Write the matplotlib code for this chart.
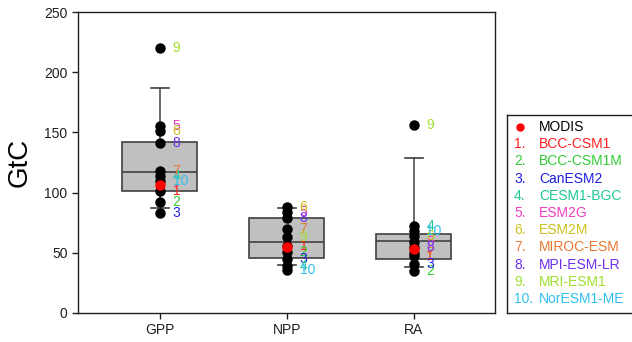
import matplotlib
matplotlib.use('Agg')
import matplotlib.pyplot as plt

plt.rcParams['font.family'] = ['Liberation Sans', 'DejaVu Sans']

# Categories and model names
categories = ['GPP', 'NPP', 'RA']
models = ['BCC-CSM1', 'BCC-CSM1M', 'CanESM2', 'CESM1-BGC', 'ESM2G',
          'ESM2M', 'MIROC-ESM', 'MPI-ESM-LR', 'MRI-ESM1', 'NorESM1-ME']
model_colors = ['#FF2020', '#33CC33', '#2020E0', '#20C896', '#F040C0',
                '#CCC020', '#E87830', '#7030F0', '#A0E030', '#30C0F0']

# Model values (GtC) per category, in model order 1..10
gpp = [101, 92, 83, 114, 155, 151, 118, 141, 220, 110]
npp = [56, 51, 45, 39, 84, 88, 70, 79, 63, 36]
ra = [47, 35, 41, 72, 59, 64, 50, 55, 156, 68]
modis = [106, 55, 53]

# Box statistics
box_whislo = [87, 40, 38]
box_q1 = [101, 46, 45]
box_med = [117, 59, 60]
box_q3 = [142, 79, 66]
box_whishi = [187, 87, 129]

fig = plt.figure(figsize=(6.32, 3.42), dpi=100)
ax = fig.add_axes([78/632, 1-313/342, (495-78)/632, (313-12)/342])

stats = []
for i in range(3):
    stats.append({'whislo': box_whislo[i], 'q1': box_q1[i], 'med': box_med[i],
                  'q3': box_q3[i], 'whishi': box_whishi[i], 'fliers': []})

positions = [1, 2, 3]
ax.bxp(stats, positions=positions, widths=0.59, patch_artist=True,
       showfliers=False, capwidths=0.14,
       boxprops=dict(facecolor='#C0C0C0', edgecolor='#404040', linewidth=1.2),
       medianprops=dict(color='#404040', linewidth=1.2),
       whiskerprops=dict(color='#505050', linewidth=1.2),
       capprops=dict(color='#404040', linewidth=1.2))

all_vals = [gpp, npp, ra]
for i, vals in enumerate(all_vals):
    x = positions[i]
    ax.plot([x]*len(vals), vals, 'o', color='black', markersize=6.5, zorder=3)
    ax.plot([x], [modis[i]], 'o', color='red', markersize=6.5, zorder=4)
    for j, v in enumerate(vals):
        ax.text(x + 0.10, v, str(j + 1), color=model_colors[j], fontsize=10,
                ha='left', va='center', zorder=5)

ax.set_xlim(0.355, 3.64)
ax.set_ylim(0, 250)
ax.set_xticks(positions)
ax.set_xticklabels(categories, fontsize=10)
ax.set_yticks([0, 50, 100, 150, 200, 250])
ax.tick_params(axis='both', labelsize=10, length=4, width=1, colors='#202020')
ax.set_ylabel('GtC', fontsize=20, labelpad=8)
for s in ax.spines.values():
    s.set_color('#202020')
    s.set_linewidth(1)

# Legend box
leg = fig.add_axes([507/632, 1-313/342, 0.25, (313-115)/342])
leg.set_xticks([])
leg.set_yticks([])
leg.set_xlim(0, 0.25*632)
leg.set_ylim(313, 115)
for s in leg.spines.values():
    s.set_color('#202020')
    s.set_linewidth(1)

row0 = 127
step = 17.2
leg.plot([520-507], [row0], 'o', color='red', markersize=5)
leg.text(539-507, row0, 'MODIS', color='black', fontsize=10, va='center', ha='left')
for j, name in enumerate(models):
    y = row0 + step*(j + 1)
    leg.text(514-507, y, str(j + 1) + '.', color=model_colors[j], fontsize=10,
             va='center', ha='left')
    leg.text(539-507, y, name, color=model_colors[j], fontsize=10,
             va='center', ha='left')

fig.savefig('out.png', dpi=100)
